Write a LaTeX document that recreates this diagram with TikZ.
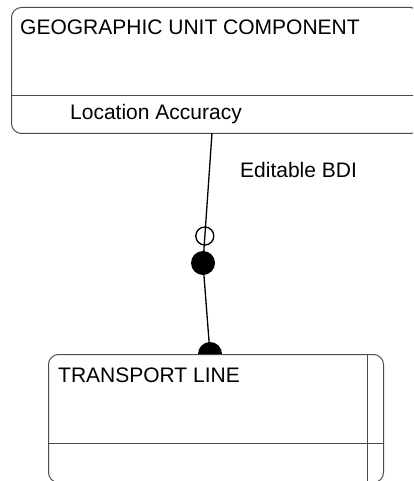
\documentclass[tikz,border=0pt]{standalone}
\usepackage{fontspec}
\setmainfont{Liberation Sans}
\begin{document}
\begin{tikzpicture}[x=1pt,y=-1pt,
  box/.style={draw=black!70, line width=1pt, rounded corners=10pt, inner sep=0pt, anchor=north west},
  divline/.style={draw=black!70, line width=1pt},
  lbl/.style={font=\fontsize{21}{25}\selectfont, anchor=base west, inner sep=0pt},
  conn/.style={line width=1.3pt}]
\useasboundingbox (0,0) rectangle (413,481);
\begin{scope}
\clip (0,0) rectangle (413,481);
\node[box, minimum width=409pt, minimum height=126pt] (guc) at (11,7) {};
\draw[divline] (11,96) -- (420,96);
\node[box, minimum width=335pt, minimum height=128pt] (tl) at (48,354) {};
\draw[divline] (48,443) -- (383,443);
\draw[divline] (367,354) -- (367,482);
\end{scope}
\node[lbl] (t1) at (20,35) {GEOGRAPHIC UNIT COMPONENT};
\node[lbl] (t2) at (70,120) {Location Accuracy};
\node[lbl] (t3) at (58,382) {TRANSPORT LINE};
\node[lbl] (t4) at (240,177) {Editable BDI};
\coordinate (c1) at (212,133);
\coordinate (k) at (203,263);
\coordinate (c2) at (210,354);
\draw[conn] (c1) -- (k) -- (c2);
\draw[conn] (204.8,236) circle (9);
\fill (k) circle (12);
\fill (c2) ++(12,0) arc (0:-180:12) -- cycle;
\end{tikzpicture}
\end{document}
